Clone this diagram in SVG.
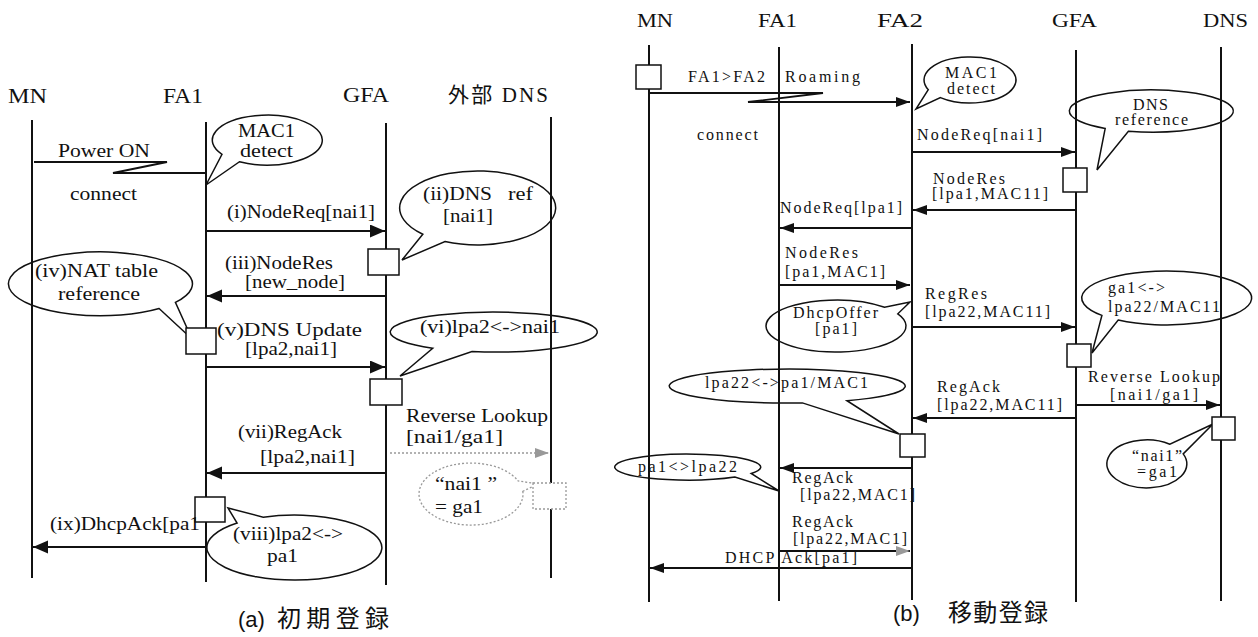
<svg xmlns="http://www.w3.org/2000/svg" width="1258" height="637" viewBox="0 0 1258 637">
<style>
text{font-family:"Liberation Serif","Noto Sans CJK JP",serif;fill:#111;}
.l{font-size:18px;}
.r{font-size:16px;}
.h{font-size:21px;}
.hr{font-size:18px;}
.life{stroke:#111;stroke-width:2;fill:none;}
.msg{stroke:#111;stroke-width:1.8;fill:none;}
.co{fill:#fff;stroke:#111;stroke-width:1.5;}
.cod{fill:#fff;stroke:#999;stroke-width:1.3;stroke-dasharray:2 2;}
.box{fill:#fff;stroke:#111;stroke-width:1.5;}
.cap{font-family:"Liberation Sans",sans-serif;font-size:22px;}
.cjk{font-family:"Noto Sans CJK JP",sans-serif;font-size:24px;}
</style>
<defs>
<marker id="ah" markerUnits="userSpaceOnUse" markerWidth="16" markerHeight="14" refX="15" refY="6.5" orient="auto"><path d="M0,0 L15,6.5 L0,13 z" fill="#111"/></marker>
<marker id="ahr" markerUnits="userSpaceOnUse" markerWidth="15" markerHeight="11" refX="14" refY="5" orient="auto"><path d="M0,0 L14,5 L0,10 z" fill="#111"/></marker>
<marker id="ahg" markerUnits="userSpaceOnUse" markerWidth="15" markerHeight="11" refX="14" refY="5" orient="auto"><path d="M0,0 L14,5 L0,10 z" fill="#999"/></marker>
</defs>

<!-- callouts (a) -->
<g id="callout-a-mac1"><path class="co" d="M222,154.3 A55,25 0 1 1 239.5,161.7 L206,185 Z"/></g>
<g id="callout-a-dnsref"><path class="co" d="M422.8,234.2 A78,37 0 1 1 445,241.5 L402,260 Z"/></g>
<g id="callout-a-nat"><path class="co" d="M159.1,308.5 A92,32 0 1 1 175.4,302.4 L192,339 Z"/></g>
<g id="callout-a-vi"><path class="co" d="M432.7,348.2 A103.5,20 0 1 1 472,351.6 L400,376 Z"/></g>
<g id="callout-a-nai1"><path class="cod" d="M522.8,491.3 A52,31 0 1 1 518.1,480.9 L538,484 Z"/></g>
<g id="callout-a-viii"><path class="co" d="M263.2,517.2 A87.5,32.5 0 1 1 237.1,523 L228,508 Z"/></g>

<!-- callouts (b) -->
<g id="callout-b-mac1"><path class="co" d="M928.3,89.7 A46,23 0 1 1 940.4,97.6 L916,109 Z"/></g>
<g id="callout-b-dnsref"><path class="co" d="M1105.2,128.4 A82,21 0 1 1 1128.4,131.2 L1097,170 Z"/></g>
<g id="callout-b-dhcpoffer"><path class="co" d="M897.8,313.8 A70,26 0 1 1 884.6,307.3 L910,302 Z"/></g>
<g id="callout-b-ga1"><path class="co" d="M1101.9,315.4 A85,27 0 1 1 1118.2,320.1 L1092,353 Z"/></g>
<g id="callout-b-lpa22"><path class="co" d="M802.4,402.9 A118,17 0 1 1 847,400.7 L899,434 Z"/></g>
<g id="callout-b-pa1"><path class="co" d="M734.9,477 A73,13 0 1 1 751.2,473.5 L779,491 Z"/></g>
<g id="callout-b-nai1"><path class="co" d="M1183.2,453.9 A40,24 0 1 1 1169.9,444.3 L1213,424 Z"/></g>

<!-- lifelines -->
<g id="a-MN"><line class="life" x1="32" y1="120" x2="32" y2="578"/><text class="h" x="8" y="103" textLength="39" lengthAdjust="spacingAndGlyphs">MN</text></g>
<g id="a-FA1"><line class="life" x1="206" y1="122" x2="206" y2="582"/><text class="h" x="163" y="103" textLength="40" lengthAdjust="spacingAndGlyphs">FA1</text></g>
<g id="a-GFA"><line class="life" x1="386" y1="123" x2="386" y2="585"/><text class="h" x="343" y="102" textLength="46" lengthAdjust="spacingAndGlyphs">GFA</text></g>
<g id="a-DNS"><line class="life" x1="551" y1="117" x2="551" y2="578"/><text class="h" x="448" y="102" textLength="100">外部 DNS</text></g>

<g id="b-MN"><line class="life" x1="649" y1="45" x2="649" y2="602"/><text class="hr" x="637" y="27" textLength="36" lengthAdjust="spacingAndGlyphs">MN</text></g>
<g id="b-FA1"><line class="life" x1="779" y1="47" x2="779" y2="601"/><text class="hr" x="758" y="27" textLength="39" lengthAdjust="spacingAndGlyphs">FA1</text></g>
<g id="b-FA2"><line class="life" x1="912" y1="44" x2="912" y2="600"/><text class="hr" x="877" y="27" textLength="46" lengthAdjust="spacingAndGlyphs">FA2</text></g>
<g id="b-GFA"><line class="life" x1="1076" y1="50" x2="1076" y2="602"/><text class="hr" x="1052" y="27" textLength="45" lengthAdjust="spacingAndGlyphs">GFA</text></g>
<g id="b-DNS"><line class="life" x1="1221" y1="47" x2="1221" y2="601"/><text class="hr" x="1203" y="27" textLength="45" lengthAdjust="spacingAndGlyphs">DNS</text></g>

<!-- connectors -->
<g id="connectors">
<polyline class="msg" points="34,162 167,162 113,173 206,173"/>
<line class="msg" x1="206" y1="231" x2="385" y2="231" marker-end="url(#ah)"/>
<line class="msg" x1="386" y1="296" x2="207" y2="296" marker-end="url(#ah)"/>
<line class="msg" x1="206" y1="367" x2="385" y2="367" marker-end="url(#ah)"/>
<line x1="390" y1="453" x2="549" y2="453" stroke="#999" stroke-width="1.5" stroke-dasharray="2 2" marker-end="url(#ahg)"/>
<line class="msg" x1="386" y1="473" x2="207" y2="473" marker-end="url(#ah)"/>
<line class="msg" x1="206" y1="547" x2="33" y2="547" marker-end="url(#ah)"/>

<polyline class="msg" points="649,93 823,93 748,102 910,102" marker-end="url(#ahr)"/>
<line class="msg" x1="912" y1="152" x2="1075" y2="152" marker-end="url(#ahr)"/>
<line class="msg" x1="1076" y1="210" x2="913" y2="210" marker-end="url(#ahr)"/>
<line class="msg" x1="912" y1="228" x2="780" y2="228" marker-end="url(#ahr)"/>
<line class="msg" x1="779" y1="285" x2="910" y2="285" marker-end="url(#ahr)"/>
<line class="msg" x1="912" y1="327" x2="1075" y2="327" marker-end="url(#ahr)"/>
<line class="msg" x1="1076" y1="405" x2="1220" y2="405" marker-end="url(#ahr)"/>
<line class="msg" x1="1076" y1="418" x2="913" y2="418" marker-end="url(#ahr)"/>
<line class="msg" x1="912" y1="468" x2="780" y2="468" marker-end="url(#ahr)"/>
<line class="msg" x1="779" y1="551" x2="910" y2="551" marker-end="url(#ahg)"/>
<line class="msg" x1="912" y1="568" x2="650" y2="568" marker-end="url(#ahr)"/>
</g>

<!-- activation boxes -->
<g id="boxes">
<rect class="box" x="368" y="249" width="31" height="26"/>
<rect class="box" x="186" y="328" width="30" height="26"/>
<rect class="box" x="370" y="379" width="32" height="26"/>
<rect x="533" y="483" width="33" height="26" fill="#fff" stroke="#999" stroke-width="1.3" stroke-dasharray="2 2"/>
<rect class="box" x="195" y="497" width="30" height="25"/>
<rect class="box" x="636" y="65" width="25" height="24"/>
<rect class="box" x="1063" y="168" width="24" height="24"/>
<rect class="box" x="1067" y="344" width="24" height="23"/>
<rect class="box" x="900" y="434" width="25" height="23"/>
<rect class="box" x="1212" y="417" width="23" height="23"/>
</g>

<!-- labels (a) -->
<g id="labels-a">
<text class="l" x="58" y="157" textLength="92" lengthAdjust="spacingAndGlyphs">Power ON</text>
<text class="l" x="70" y="200" textLength="67" lengthAdjust="spacingAndGlyphs">connect</text>
<text class="l" x="238" y="137" textLength="57" lengthAdjust="spacingAndGlyphs">MAC1</text>
<text class="l" x="240" y="157" textLength="53" lengthAdjust="spacingAndGlyphs">detect</text>
<text class="l" x="227" y="218" textLength="148" lengthAdjust="spacingAndGlyphs">(i)NodeReq[nai1]</text>
<text class="l" x="423" y="200" textLength="69" lengthAdjust="spacingAndGlyphs">(ii)DNS</text>
<text class="l" x="508" y="200" textLength="25" lengthAdjust="spacingAndGlyphs">ref</text>
<text class="l" x="443" y="222" textLength="50" lengthAdjust="spacingAndGlyphs">[nai1]</text>
<text class="l" x="225" y="269" textLength="108" lengthAdjust="spacingAndGlyphs">(iii)NodeRes</text>
<text class="l" x="245" y="288" textLength="100" lengthAdjust="spacingAndGlyphs">[new_node]</text>
<text class="l" x="35" y="277" textLength="123" lengthAdjust="spacingAndGlyphs">(iv)NAT table</text>
<text class="l" x="58" y="300" textLength="82" lengthAdjust="spacingAndGlyphs">reference</text>
<text class="l" x="217" y="336" textLength="145" lengthAdjust="spacingAndGlyphs">(v)DNS Update</text>
<text class="l" x="245" y="355" textLength="92" lengthAdjust="spacingAndGlyphs">[lpa2,nai1]</text>
<text class="l" x="420" y="333" textLength="140" lengthAdjust="spacingAndGlyphs">(vi)lpa2&lt;-&gt;nai1</text>
<text class="l" x="406" y="422" font-size="19" textLength="142" lengthAdjust="spacingAndGlyphs">Reverse Lookup</text>
<text class="l" x="406" y="443" font-size="19" textLength="97" lengthAdjust="spacingAndGlyphs">[nai1/ga1]</text>
<text class="l" x="238" y="438" textLength="104" lengthAdjust="spacingAndGlyphs">(vii)RegAck</text>
<text class="l" x="260" y="463" textLength="95" lengthAdjust="spacingAndGlyphs">[lpa2,nai1]</text>
<text class="l" x="435" y="490" textLength="62" lengthAdjust="spacingAndGlyphs">“nai1 ”</text>
<text class="l" x="435" y="513" textLength="48" lengthAdjust="spacingAndGlyphs">= ga1</text>
<text class="l" x="233" y="540" textLength="110" lengthAdjust="spacingAndGlyphs">(viii)lpa2&lt;-&gt;</text>
<text class="l" x="267" y="562" textLength="31" lengthAdjust="spacingAndGlyphs">pa1</text>
<text class="l" x="50" y="530" textLength="150" lengthAdjust="spacingAndGlyphs">(ix)DhcpAck[pa1</text>
<text class="cap" x="238" y="627">(a)</text>
<text class="cjk" x="277" y="627" textLength="112">初期登録</text>
</g>

<!-- labels (b) -->
<g id="labels-b">
<text class="r" x="688" y="82" textLength="77">FA1&gt;FA2</text>
<text class="r" x="785" y="82" textLength="75">Roaming</text>
<text class="r" x="697" y="140" textLength="61">connect</text>
<text class="r" x="945" y="78" textLength="52">MAC1</text>
<text class="r" x="947" y="94" textLength="48">detect</text>
<text class="r" x="917" y="140" textLength="125">NodeReq[nai1]</text>
<text class="r" x="1133" y="110" font-size="15" textLength="35">DNS</text>
<text class="r" x="1115" y="125" font-size="15" textLength="73">reference</text>
<text class="r" x="933" y="184" textLength="72">NodeRes</text>
<text class="r" x="932" y="199" textLength="116">[lpa1,MAC11]</text>
<text class="r" x="780" y="213" textLength="122">NodeReq[lpa1]</text>
<text class="r" x="785" y="258" textLength="73">NodeRes</text>
<text class="r" x="785" y="277" textLength="100">[pa1,MAC1]</text>
<text class="r" x="793" y="318" textLength="85">DhcpOffer</text>
<text class="r" x="815" y="334" textLength="42">[pa1]</text>
<text class="r" x="925" y="299" textLength="62">RegRes</text>
<text class="r" x="925" y="317" textLength="125">[lpa22,MAC11]</text>
<text class="r" x="1108" y="293" textLength="57">ga1&lt;-&gt;</text>
<text class="r" x="1108" y="312" textLength="112">lpa22/MAC11</text>
<text class="r" x="1088" y="382" textLength="132">Reverse Lookup</text>
<text class="r" x="1110" y="400" textLength="88">[nai1/ga1]</text>
<text class="r" x="937" y="392" textLength="63">RegAck</text>
<text class="r" x="937" y="410" textLength="125">[lpa22,MAC11]</text>
<text class="r" x="705" y="388" textLength="163">lpa22&lt;-&gt;pa1/MAC1</text>
<text class="r" x="638" y="472" textLength="99">pa1&lt;&gt;lpa22</text>
<text class="r" x="792" y="483" textLength="61">RegAck</text>
<text class="r" x="800" y="500" textLength="115">[lpa22,MAC1]</text>
<text class="r" x="792" y="527" textLength="61">RegAck</text>
<text class="r" x="793" y="544" textLength="114">[lpa22,MAC1]</text>
<text class="r" x="725" y="563" textLength="132">DHCP Ack[pa1]</text>
<text class="r" x="1132" y="461" font-size="12" textLength="50">“nai1”</text>
<text class="r" x="1137" y="477" font-size="12" textLength="40">=ga1</text>
<text class="cap" x="893" y="621">(b)</text>
<text class="cjk" x="948" y="621" textLength="100">移動登録</text>
</g>
</svg>
